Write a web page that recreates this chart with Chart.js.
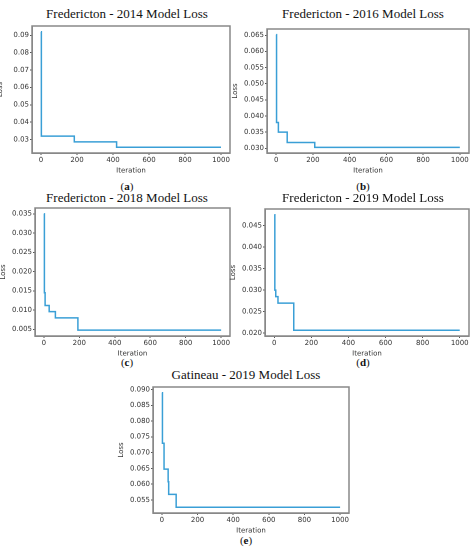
<!DOCTYPE html>
<html><head><meta charset="utf-8">
<script src="https://cdn.jsdelivr.net/npm/chart.js@4"></script>
<style>
body{margin:0;background:#fff;width:474px;height:551px;position:relative;overflow:hidden;font-family:"Liberation Serif",serif;}
.t{position:absolute;transform:translateX(-50%);font-size:13px;color:#111;white-space:nowrap;}
.l{position:absolute;transform:translateX(-50%);font-size:11px;color:#111;}
canvas{position:absolute;}
</style></head><body>
<script>
const titles=["Fredericton - 2014 Model Loss","Fredericton - 2016 Model Loss","Fredericton - 2018 Model Loss","Fredericton - 2019 Model Loss","Gatineau - 2019 Model Loss"];
const tags=["a","b","c","d","e"];
const xA=[0,2,185,420,1000], yA=[0.092,0.032,0.0287,0.0256,0.0256];
const xB=[0,2,12,60,210,1000], yB=[0.0652,0.038,0.035,0.0318,0.0303,0.0303];
const xC=[0,3,7,30,65,192,1000], yC=[0.035,0.0145,0.0112,0.0096,0.008,0.0048,0.0048];
const xD=[0,3,8,20,105,1000], yD=[0.0475,0.030,0.0285,0.027,0.0207,0.0207];
const xE=[0,3,12,35,38,80,1000], yE=[0.089,0.073,0.0648,0.0608,0.0568,0.0527,0.0527];
const yTicksA=[0.03,0.04,0.05,0.06,0.07,0.08,0.09];
const yTicksB=[0.030,0.035,0.040,0.045,0.050,0.055,0.060,0.065];
const yTicksC=[0.005,0.010,0.015,0.020,0.025,0.030,0.035];
const yTicksD=[0.020,0.025,0.030,0.035,0.040,0.045];
const yTicksE=[0.055,0.060,0.065,0.070,0.075,0.080,0.085,0.090];
const xTicks=[0,200,400,600,800,1000];
const series=[[xA,yA,yTicksA,2],[xB,yB,yTicksB,3],[xC,yC,yTicksC,3],[xD,yD,yTicksD,3],[xE,yE,yTicksE,3]];
const panels=[{L:32,R:230,T:26,B:153,tx:127,ty:6,lx:127,ly:180},
{L:267,R:469,T:29,B:153,tx:363,ty:6,lx:363,ly:180},
{L:35,R:230,T:208,B:336,tx:127,ty:190,lx:127,ly:356},
{L:265,R:469,T:209,B:336,tx:363,ty:190,lx:363,ly:356},
{L:153,R:349,T:387,B:513,tx:246,ty:367,lx:246,ly:534}];
const YW=36, XH=22;
panels.forEach((p,i)=>{
  const t=document.createElement('div');t.className='t';t.style.left=p.tx+'px';t.style.top=p.ty+'px';t.textContent=titles[i];document.body.appendChild(t);
  const l=document.createElement('div');l.className='l';l.style.left=p.lx+'px';l.style.top=p.ly+'px';l.innerHTML='(<b>'+tags[i]+'</b>)';document.body.appendChild(l);
  const c=document.createElement('canvas');
  const W=(p.R-p.L)+YW+4,H=(p.B-p.T)+6+XH;
  c.style.left=(p.L-YW)+'px';c.style.top=(p.T-6)+'px';c.style.width=W+'px';c.style.height=H+'px';
  c.width=W;c.height=H;document.body.appendChild(c);
  const [xs,ys,yt,dec]=series[i];
  const mn=Math.min(...ys),mx=Math.max(...ys),r=mx-mn;
  const tf={size:7,family:'DejaVu Sans'};
  new Chart(c,{type:'line',data:{datasets:[{data:xs.map((x,k)=>({x:x,y:ys[k]})),stepped:'before',borderColor:'#3a9fd6',borderWidth:1.5,pointRadius:0,fill:false}]},
  options:{responsive:false,animation:false,devicePixelRatio:2,layout:{padding:{top:6,right:4,left:0,bottom:0}},
   plugins:{legend:{display:false},tooltip:{enabled:false}},
   scales:{
    x:{type:'linear',min:-50,max:1050,afterBuildTicks:s=>{s.ticks=xTicks.map(v=>({value:v}));},afterFit:s=>{s.height=XH;},
      grid:{display:true,drawOnChartArea:false,tickLength:2,color:'#555'},border:{color:'#888',width:1.5},
      ticks:{font:tf,color:'#333',maxRotation:0,padding:1,callback:v=>String(v)},
      title:{display:true,text:'Iteration',font:tf,color:'#333',padding:0}},
    y:{type:'linear',min:mn-0.05*r,max:mx+0.05*r,afterBuildTicks:s=>{s.ticks=yt.map(v=>({value:v}));},afterFit:s=>{s.width=YW;},
      grid:{display:true,drawOnChartArea:false,tickLength:2,color:'#555'},border:{color:'#888',width:1.5},
      ticks:{font:tf,color:'#333',padding:1,callback:v=>v.toFixed(dec)},
      title:{display:true,text:'Loss',font:tf,color:'#333',padding:0}}
   }},
  plugins:[{id:'box',afterDraw(ch){const a=ch.chartArea,g=ch.ctx;g.save();g.strokeStyle='#888';g.lineWidth=1.5;g.strokeRect(a.left,a.top,a.right-a.left,a.bottom-a.top);g.restore();}}]});
});
</script>
</body></html>
